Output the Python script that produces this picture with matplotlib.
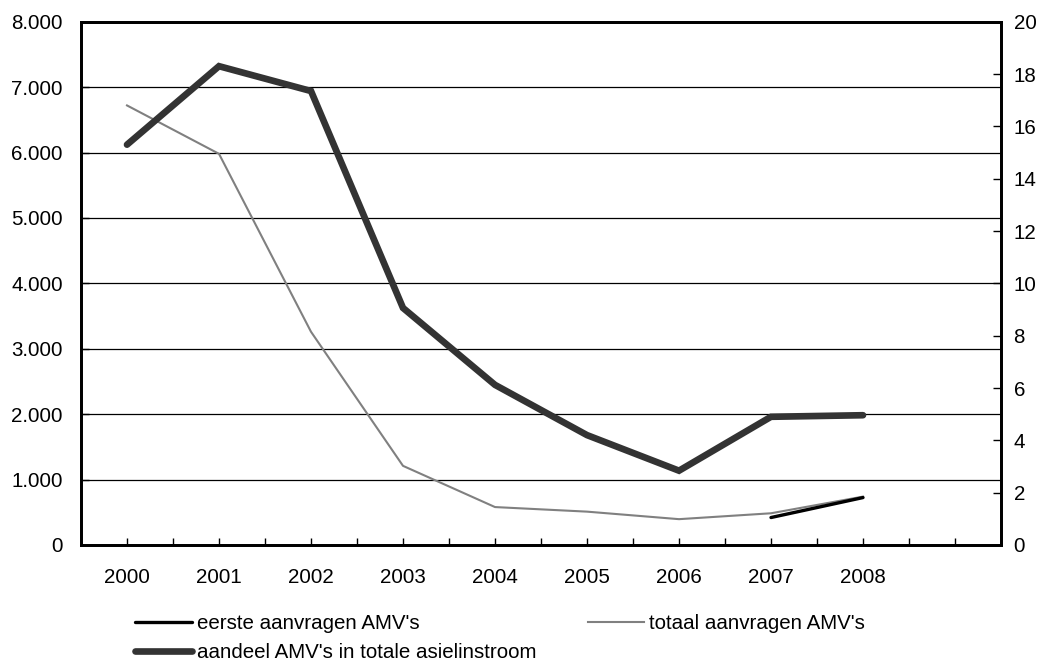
import numpy as np
import matplotlib
matplotlib.use("Agg")
import matplotlib.pyplot as plt
from matplotlib.ticker import FuncFormatter, MultipleLocator

plt.rcParams["font.family"] = ["Liberation Sans", "DejaVu Sans"]

# data
jaren = ["2000", "2001", "2002", "2003", "2004", "2005", "2006", "2007", "2008"]
eerste = [np.nan, np.nan, np.nan, np.nan, np.nan, np.nan, np.nan, 420, 725]
totaal = [6720, 5980, 3260, 1210, 580, 510, 395, 485, 740]
aandeel = [15.3, 18.3, 17.35, 9.06, 6.12, 4.2, 2.84, 4.9, 4.96]

fs = 14.8
fig = plt.figure(figsize=(10.45, 6.63), dpi=100)
ax = fig.add_axes([81 / 1045, 1 - 545 / 663, 920 / 1045, (545 - 21.7) / 663])
ax2 = ax.twinx()

x = np.arange(len(jaren))

# horizontal gridlines
for v in range(1000, 8000, 1000):
    ax.axhline(v, color="black", lw=0.9, zorder=1)

l1, = ax.plot(x, eerste, color="black", lw=2.4, zorder=4, solid_capstyle="round")
l2, = ax.plot(x, totaal, color="#808080", lw=1.5, zorder=3)
l3, = ax2.plot(x, aandeel, color="#333333", lw=4.8, zorder=3,
               solid_capstyle="round", solid_joinstyle="miter")

ax.set_xlim(-0.5, 9.5)
ax.set_ylim(0, 8000)
ax2.set_ylim(0, 20)

ax.yaxis.set_major_locator(MultipleLocator(1000))
ax.yaxis.set_major_formatter(FuncFormatter(lambda v, p: f"{int(v):,}".replace(",", ".")))
ax2.yaxis.set_major_locator(MultipleLocator(2))

ax.set_xticks(np.arange(0, 10))
ax.set_xticklabels(jaren + [""])
ax.set_xticks(np.arange(-0.5, 10, 1.0), minor=True)

ax.tick_params(axis="x", which="both", direction="in", length=5, width=1, pad=16.5, labelsize=fs)
ax.tick_params(axis="y", direction="in", length=6, width=1, pad=13, labelsize=fs)
ax2.tick_params(axis="y", direction="in", length=6, width=1, pad=9, labelsize=fs)

for a in (ax, ax2):
    for s in a.spines.values():
        s.set_linewidth(2)
        s.set_color("black")

fig.legend([l1, l3, l2],
           ["eerste aanvragen AMV's", "aandeel AMV's in totale asielinstroom",
            "totaal aanvragen AMV's"],
           ncol=2, loc="upper left", bbox_to_anchor=(135 / 1045, 1 - 614 / 663),
           frameon=False, fontsize=fs, borderpad=0, borderaxespad=0,
           handlelength=2.75, handletextpad=0.25, labelspacing=0.5,
           columnspacing=2.5)

fig.savefig("out.png", dpi=100)
